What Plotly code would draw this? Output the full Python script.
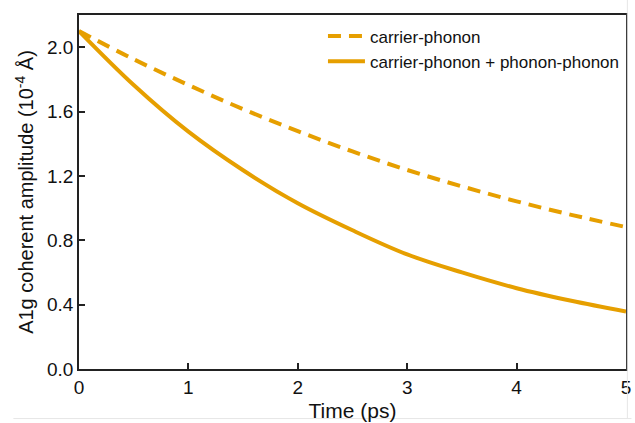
import plotly.graph_objects as go

# Data
time_ps = [0.0, 0.5, 1.0, 1.5, 2.0, 2.5, 3.0, 3.5, 4.0, 4.5, 5.0]
carrier_phonon = [2.10, 1.925, 1.765, 1.615, 1.478, 1.352, 1.237, 1.135, 1.042, 0.958, 0.882]
carrier_plus_phonon = [2.10, 1.765, 1.475, 1.235, 1.03, 0.862, 0.712, 0.6, 0.502, 0.424, 0.357]

x_ticks = [0, 1, 2, 3, 4, 5]
y_ticks = [0.0, 0.4, 0.8, 1.2, 1.6, 2.0]
y_tick_text = ["0.0", "0.4", "0.8", "1.2", "1.6", "2.0"]

orange = "#E69F00"
font_family = "Liberation Sans, Arial, Helvetica, sans-serif"

fig = go.Figure()
fig.add_trace(go.Scatter(
    x=time_ps, y=carrier_phonon, mode="lines", name="carrier-phonon",
    line=dict(color=orange, width=4, dash="13px,8px", shape="spline"),
))
fig.add_trace(go.Scatter(
    x=time_ps, y=carrier_plus_phonon, mode="lines",
    name="carrier-phonon + phonon-phonon",
    line=dict(color=orange, width=4, shape="spline"),
))

fig.update_layout(
    width=635, height=423,
    margin=dict(l=79, r=4, t=15, b=53),
    paper_bgcolor="white", plot_bgcolor="white",
    font=dict(family=font_family, color="#111111"),
    showlegend=True,
    legend=dict(
        x=0.446, y=0.99, xanchor="left", yanchor="top",
        bgcolor="rgba(0,0,0,0)", borderwidth=0,
        font=dict(size=17, family=font_family, color="#111111"),
        tracegroupgap=0, itemwidth=37,
    ),
    xaxis=dict(
        range=[0, 5], tickvals=x_ticks, ticks="inside", ticklen=6, tickwidth=1.5,
        tickcolor="#222222", showline=True, linecolor="#222222", linewidth=1.5,
        mirror=True, showgrid=False, zeroline=False,
        tickfont=dict(size=19, family=font_family, color="#111111"),
        title=dict(text="Time (ps)", font=dict(size=21, family=font_family, color="#111111"),
                   standoff=7),
    ),
    yaxis=dict(
        range=[0, 2.2], tickvals=y_ticks, ticktext=y_tick_text, ticks="inside",
        ticklen=6, tickwidth=1.5, tickcolor="#222222",
        showline=True, linecolor="#222222", linewidth=1.5,
        mirror=True, showgrid=False, zeroline=False,
        tickfont=dict(size=19, family=font_family, color="#111111"),
        title=dict(text="A1g coherent amplitude (10<sup>-4</sup> Å)",
                   font=dict(size=20, family=font_family, color="#111111"),
                   standoff=8),
    ),
)

# faint frame lines from the reference screenshot edges
fig.add_shape(type="line", xref="paper", yref="paper",
              x0=-0.12, x1=1.01, y0=-0.14, y1=-0.14,
              line=dict(color="#e6e6e6", width=1))
fig.add_shape(type="line", xref="paper", yref="paper",
              x0=1.0025, x1=1.0025, y0=-0.14, y1=1.05,
              line=dict(color="#e6e6e6", width=1))

fig.write_html("out.html")
